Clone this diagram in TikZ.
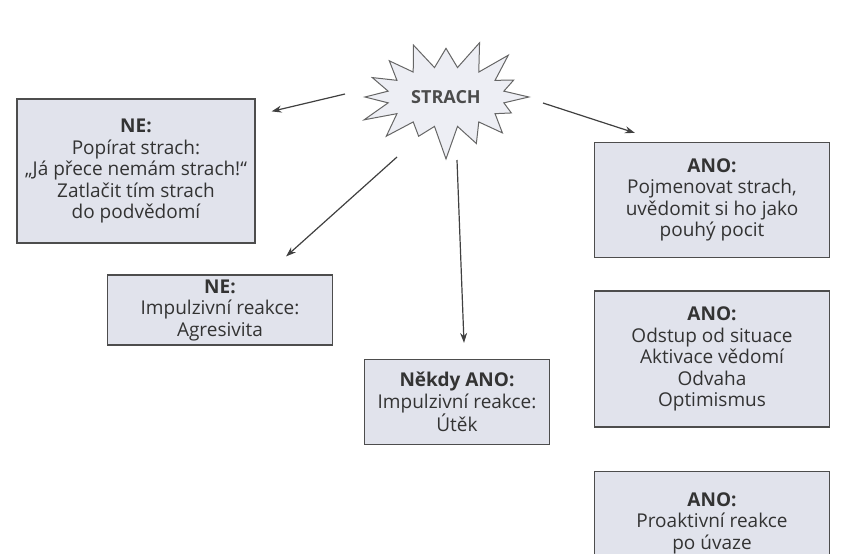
\documentclass[tikz,border=0pt]{standalone}
\usepackage{fontspec}
\setmainfont{Open Sans}
\usetikzlibrary{shapes.symbols,arrows.meta}
\definecolor{boxfill}{HTML}{E1E3EC}
\definecolor{boxline}{HTML}{4D4D4D}
\tikzset{
  box/.style={draw=boxline, line width=1.2pt, fill=boxfill, align=center, text=black!80,
    font=\fontsize{19}{21.5}\selectfont, inner sep=0pt},
  arr/.style={-{Stealth[length=10pt,width=7pt]}, draw=black!75, line width=1.2pt}
}
\begin{document}
\begin{tikzpicture}[x=1pt,y=1pt]
\useasboundingbox (0,0) rectangle (841,-554);
\clip (0,0) rectangle (841,-554);

% draw the star in the middle
\pgfmathsetseed{3}
\node[starburst, starburst points=16, starburst point height=32pt, random starburst=15,
  draw=black!60, line width=1pt, fill=boxfill!60, minimum width=182pt, minimum height=124pt,
  font=\bfseries\fontsize{18}{20}\selectfont, text=black!70] (star) at (446,-97) {STRACH};

% draw the boxes on the left
\node[box, minimum width=238pt, minimum height=144pt] (ne1) at (136,-171) {
  \textbf{NE:}\\
  Popírat strach:\\
  „Já přece nemám strach!“\\
  Zatlačit tím strach\\
  do podvědomí
};
\node[box, minimum width=225pt, minimum height=70pt] (ne2) at (220,-310) {
  \textbf{NE:}\\
  Impulzivní reakce:\\
  Agresivita
};
\node[box, minimum width=185pt, minimum height=85pt] (nekdy) at (457,-402) {
  \textbf{Někdy ANO:}\\
  Impulzivní reakce:\\
  Útěk
};

% draw the boxes on the right
\node[box, minimum width=235pt, minimum height=115pt] (ano1) at (712,-200) {
  \textbf{ANO:}\\
  Pojmenovat strach,\\
  uvědomit si ho jako\\
  pouhý pocit
};
\node[box, minimum width=235pt, minimum height=136pt] (ano2) at (712,-359) {
  \textbf{ANO:}\\
  Odstup od situace\\
  Aktivace vědomí\\
  Odvaha\\
  Optimismus
};
\node[box, minimum width=235pt, minimum height=103pt] (ano3) at (712,-523) {
  \textbf{ANO:}\\
  Proaktivní reakce\\
  po úvaze
};

% draw arrows from the star
\draw[arr] ([shift={(-101,3)}]star.center) -- ([shift={(16,-13)}]ne1.north east);
\draw[arr] ([shift={(-49,-60)}]star.center) -- ([shift={(-47,18)}]ne2.north east);
\draw[arr] ([shift={(11,-63)}]star.center) -- ([shift={(7,16)}]nekdy.north);
\draw[arr] ([shift={(97,-6)}]star.center) -- ([shift={(41,9)}]ano1.north west);
\end{tikzpicture}
\end{document}
